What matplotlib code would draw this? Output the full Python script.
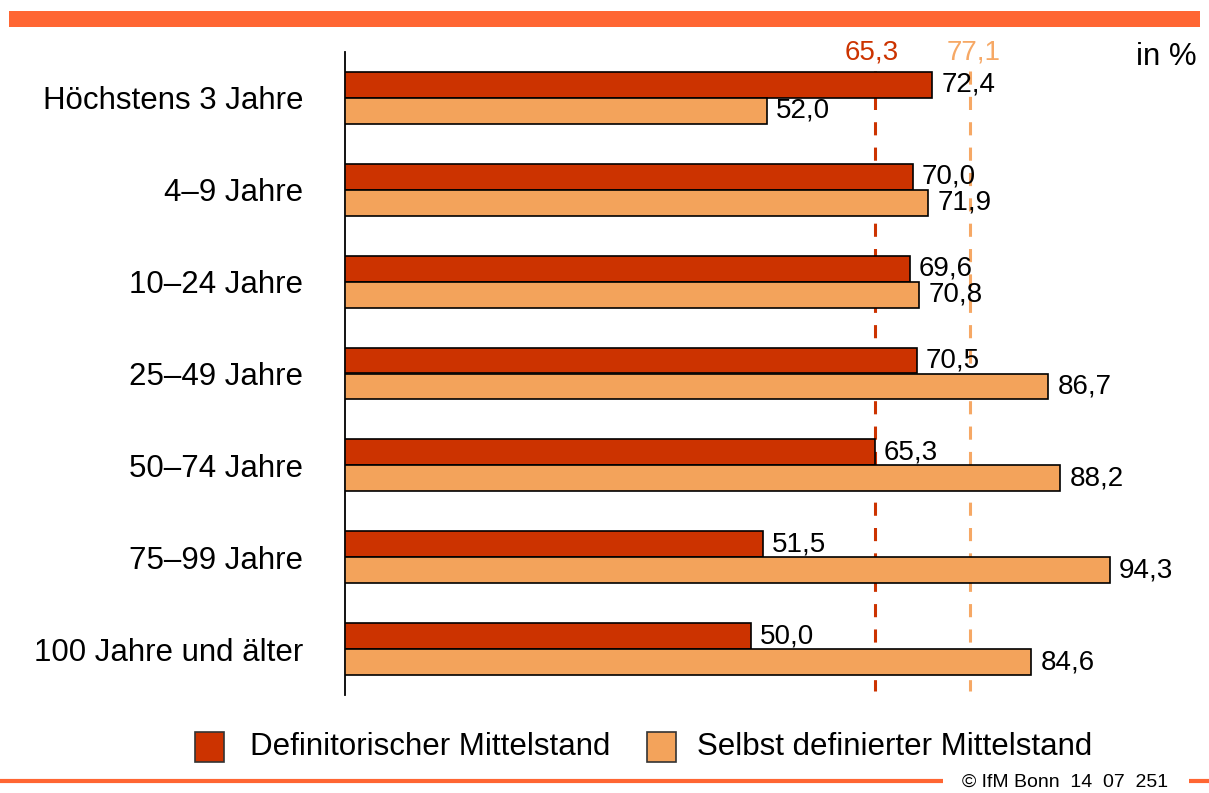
import matplotlib
matplotlib.use("Agg")
import matplotlib.pyplot as plt
from matplotlib.patches import Rectangle

plt.rcParams['font.family'] = ['Liberation Sans', 'DejaVu Sans']

# --- data ---
categories = ["Höchstens 3 Jahre", "4–9 Jahre", "10–24 Jahre", "25–49 Jahre",
              "50–74 Jahre", "75–99 Jahre", "100 Jahre und älter"]
definitorisch = [72.4, 70.0, 69.6, 70.5, 65.3, 51.5, 50.0]
selbst = [52.0, 71.9, 70.8, 86.7, 88.2, 94.3, 84.6]
avg_definitorisch = 65.3
avg_selbst = 77.1
series_names = ["Definitorischer Mittelstand", "Selbst definierter Mittelstand"]

DARK = '#CC3300'
LIGHT = '#F3A35B'
LIGHT_LINE = '#F6A865'
BAND = '#FF6633'


def fmt(v):
    return f"{v:.1f}".replace('.', ',')


W, H = 1209, 793
fig = plt.figure(figsize=(W / 100, H / 100), dpi=100)

# main axes: x=0 at px 345, axis from y=52 to y=695
ax = fig.add_axes([345 / W, (H - 695) / H, (W - 345) / W, 643 / H])
ax.set_xlim(0, (W - 345) / 8.112)
ax.set_ylim(len(categories) - 0.5, -0.5)

bh = 0.283
ypos = list(range(len(categories)))
ax.barh([y - bh / 2 for y in ypos], definitorisch, height=bh, color=DARK,
        edgecolor='black', linewidth=1.2, zorder=3)
ax.barh([y + bh / 2 for y in ypos], selbst, height=bh, color=LIGHT,
        edgecolor='black', linewidth=1.2, zorder=3)

# dashed average lines
ax.vlines(avg_definitorisch, -0.293, 6.456, color=DARK, linewidth=2.2,
          linestyles=(0, (4.3, 4.0)), zorder=1)
ax.vlines(avg_selbst, -0.293, 6.456, color=LIGHT_LINE, linewidth=2.2,
          linestyles=(0, (4.3, 4.0)), zorder=1)
ax.text(avg_definitorisch - 0.4, -0.49, fmt(avg_definitorisch), color=DARK,
        fontsize=20, ha='center', va='center')
ax.text(avg_selbst + 0.4, -0.49, fmt(avg_selbst), color=LIGHT_LINE,
        fontsize=20, ha='center', va='center')

# value labels
for y, v in zip(ypos, definitorisch):
    ax.annotate(fmt(v), (v, y - bh / 2), xytext=(6.5, 0), textcoords='offset points',
                ha='left', va='center', fontsize=20, zorder=4)
for y, v in zip(ypos, selbst):
    ax.annotate(fmt(v), (v, y + bh / 2), xytext=(6.5, 0), textcoords='offset points',
                ha='left', va='center', fontsize=20, zorder=4)

ax.set_yticks(ypos)
ax.set_yticklabels(categories, fontsize=22.5)
ax.tick_params(axis='y', length=0, pad=30)
ax.set_xticks([])
for s in ['top', 'right', 'bottom']:
    ax.spines[s].set_visible(False)
ax.spines['left'].set_linewidth(1.3)
ax.spines['left'].set_color('black')
ax.patch.set_visible(False)

# overlay in pixel coordinates for decoration, legend and footer
ov = fig.add_axes([0, 0, 1, 1])
ov.set_xlim(0, W)
ov.set_ylim(H, 0)
ov.axis('off')

ov.add_patch(Rectangle((9, 11), 1191, 16, color=BAND, lw=0))
ov.plot([0, 943], [781, 781], color=BAND, lw=3, solid_capstyle='butt')
ov.plot([1189, W], [781, 781], color=BAND, lw=3, solid_capstyle='butt')
ov.text(962, 782, "© IfM Bonn  14  07  251", fontsize=14, ha='left', va='center')

ov.text(1197, 57, "in %", fontsize=22.5, ha='right', va='center')

# legend
for x0, tx, col, name in [(195, 250, DARK, series_names[0]),
                          (647, 697, LIGHT, series_names[1])]:
    ov.add_patch(Rectangle((x0, 732), 29, 30, facecolor=col, edgecolor='#333333', lw=1.2))
    ov.text(tx, 747, name, fontsize=22.5, ha='left', va='center')

fig.savefig("out.png", dpi=100)
